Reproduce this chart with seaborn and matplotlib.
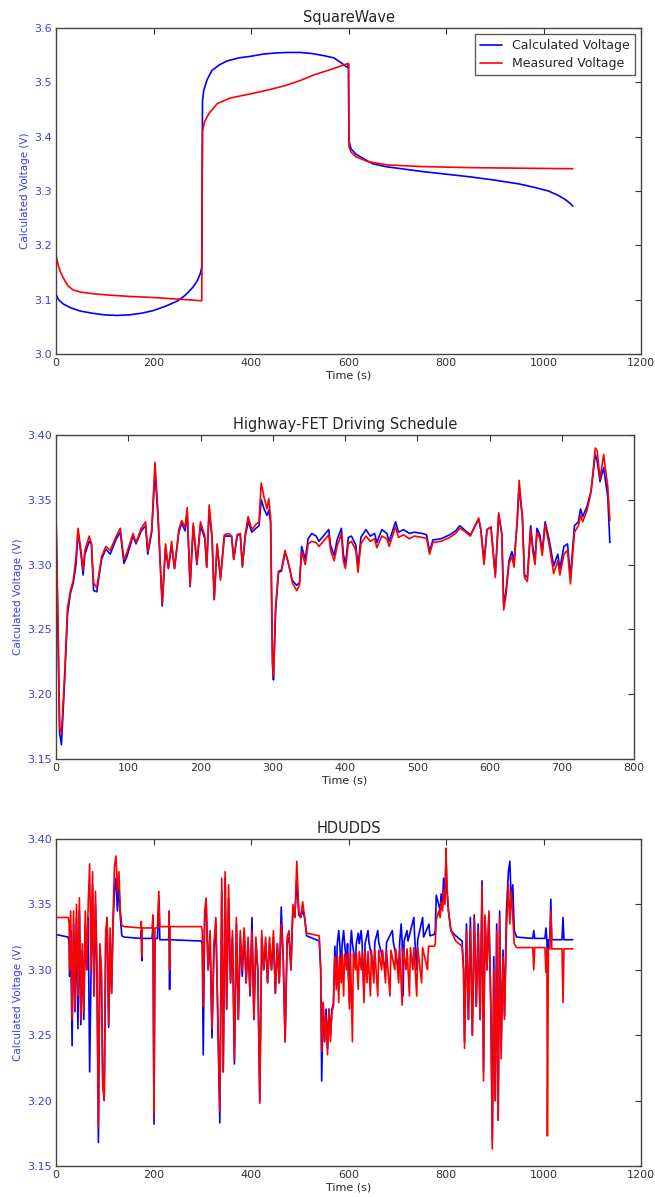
import matplotlib
matplotlib.use('Agg')
import matplotlib.pyplot as plt
import seaborn as sns
from matplotlib.ticker import FormatStrFormatter

# --- SquareWave test ---
sq_calc_t = [0, 5, 15, 30, 50, 75, 100, 125, 150, 175, 200, 225, 250, 265, 280, 290, 296, 299,
             300.5, 303, 310, 320, 335, 350, 375, 400, 425, 450, 475, 500, 525, 550, 570, 585, 595, 598, 600,
             601, 605, 615, 630, 650, 675, 700, 750, 800, 850, 900, 950, 980, 1010, 1030, 1045, 1055, 1060]
sq_calc_v = [3.110, 3.100, 3.092, 3.085, 3.079, 3.075, 3.072, 3.071, 3.072, 3.075, 3.080, 3.088, 3.098, 3.108, 3.122, 3.135, 3.148, 3.160,
             3.465, 3.485, 3.505, 3.522, 3.532, 3.539, 3.545, 3.548, 3.552, 3.554, 3.555, 3.555, 3.553, 3.549, 3.545, 3.536, 3.529, 3.528, 3.534,
             3.392, 3.378, 3.368, 3.360, 3.350, 3.345, 3.342, 3.336, 3.331, 3.326, 3.320, 3.313, 3.307, 3.300, 3.292, 3.284, 3.277, 3.272]

sq_meas_t = [0, 5, 10, 18, 25, 35, 50, 75, 100, 150, 200, 250, 299,
             300.5, 305, 314, 331, 357, 400, 440, 470, 500, 530, 565, 600,
             601, 605, 615, 640, 680, 750, 850, 950, 1060]
sq_meas_v = [3.182, 3.162, 3.149, 3.135, 3.125, 3.118, 3.114, 3.111, 3.109, 3.106, 3.104, 3.101, 3.098,
             3.410, 3.428, 3.443, 3.461, 3.471, 3.479, 3.487, 3.494, 3.503, 3.514, 3.524, 3.535,
             3.382, 3.372, 3.363, 3.354, 3.348, 3.345, 3.343, 3.342, 3.341]

# --- Highway-FET driving schedule ---
hw_t = [0, 3, 5, 7.5, 11.5, 16, 20, 24, 27.7, 30.5,
        34.6, 37.5, 40, 46, 49, 52, 56.5, 63, 69, 75,
        83.5, 89, 94, 98, 106.6, 110.7, 118, 124, 127, 132.5,
        137, 141, 147, 151.6, 155.6, 160, 164, 170, 174, 178.7,
        181.6, 185.6, 190, 195, 200, 206, 208.6, 212, 216, 219,
        223, 227.7, 233, 239, 243, 246, 250.7, 255, 258, 262,
        266, 271, 276.7, 281, 284, 288, 292, 294.5, 297, 299.7,
        301, 304, 308, 312, 317, 320, 324, 327, 333, 337,
        340, 345, 349, 354, 360, 364, 370, 377.5, 380, 385,
        389, 395, 397.7, 400.6, 404.6, 409, 415, 418, 422, 429,
        435, 441, 444, 451, 458, 461, 470, 474, 481, 489,
        496, 507, 513, 517, 521.6, 533, 545, 553, 559, 565,
        573.5, 585, 588, 592.5, 596.5, 602, 608, 612.7, 617, 619.6,
        622.5, 627, 631, 634, 638.6, 641, 645.5, 648.4, 652.4, 657,
        660, 663, 665.7, 669.7, 673, 677, 683, 688.8, 694.5, 697.4,
        703, 708, 712, 717.6, 723, 726, 729, 735, 740.6, 746.4,
        749, 753, 758, 763.7, 766.6]
hw_meas = [3.340, 3.250, 3.175, 3.170, 3.210, 3.267, 3.280, 3.288, 3.306, 3.328,
           3.311, 3.296, 3.311, 3.322, 3.316, 3.286, 3.282, 3.306, 3.314, 3.311,
           3.322, 3.328, 3.304, 3.309, 3.324, 3.317, 3.328, 3.333, 3.310, 3.327,
           3.379, 3.342, 3.270, 3.316, 3.297, 3.318, 3.297, 3.327, 3.334, 3.329,
           3.344, 3.284, 3.332, 3.301, 3.333, 3.322, 3.298, 3.346, 3.322, 3.273,
           3.316, 3.288, 3.323, 3.324, 3.322, 3.304, 3.323, 3.324, 3.298, 3.324,
           3.337, 3.327, 3.331, 3.333, 3.363, 3.352, 3.343, 3.351, 3.337, 3.225,
           3.214, 3.268, 3.295, 3.296, 3.311, 3.304, 3.296, 3.286, 3.280, 3.284,
           3.310, 3.300, 3.316, 3.318, 3.317, 3.314, 3.318, 3.323, 3.311, 3.303,
           3.314, 3.324, 3.303, 3.297, 3.316, 3.318, 3.311, 3.294, 3.316, 3.322,
           3.318, 3.320, 3.313, 3.322, 3.320, 3.314, 3.329, 3.321, 3.323, 3.320,
           3.322, 3.321, 3.320, 3.308, 3.317, 3.318, 3.321, 3.324, 3.328, 3.326,
           3.322, 3.336, 3.327, 3.300, 3.327, 3.329, 3.290, 3.340, 3.324, 3.265,
           3.275, 3.301, 3.306, 3.298, 3.337, 3.365, 3.337, 3.290, 3.287, 3.327,
           3.310, 3.300, 3.325, 3.320, 3.307, 3.331, 3.314, 3.293, 3.303, 3.292,
           3.308, 3.311, 3.285, 3.325, 3.330, 3.338, 3.333, 3.342, 3.356, 3.390,
           3.388, 3.366, 3.385, 3.360, 3.334]
hw_calc = [3.338, 3.240, 3.170, 3.161, 3.205, 3.262, 3.278, 3.286, 3.300, 3.325,
           3.308, 3.292, 3.308, 3.318, 3.316, 3.280, 3.279, 3.304, 3.312, 3.308,
           3.320, 3.325, 3.301, 3.306, 3.322, 3.316, 3.326, 3.330, 3.308, 3.325,
           3.372, 3.338, 3.268, 3.313, 3.297, 3.315, 3.297, 3.325, 3.332, 3.326,
           3.340, 3.283, 3.330, 3.300, 3.330, 3.320, 3.298, 3.342, 3.320, 3.273,
           3.315, 3.290, 3.322, 3.322, 3.322, 3.304, 3.322, 3.324, 3.299, 3.322,
           3.333, 3.325, 3.328, 3.330, 3.350, 3.343, 3.338, 3.342, 3.333, 3.222,
           3.211, 3.265, 3.294, 3.295, 3.309, 3.305, 3.295, 3.288, 3.284, 3.286,
           3.314, 3.304, 3.320, 3.324, 3.322, 3.318, 3.322, 3.327, 3.315, 3.307,
           3.319, 3.328, 3.308, 3.300, 3.321, 3.322, 3.315, 3.298, 3.321, 3.327,
           3.322, 3.324, 3.317, 3.327, 3.324, 3.318, 3.333, 3.325, 3.327, 3.324,
           3.325, 3.324, 3.323, 3.310, 3.319, 3.320, 3.323, 3.326, 3.330, 3.327,
           3.323, 3.335, 3.327, 3.302, 3.327, 3.329, 3.292, 3.338, 3.324, 3.270,
           3.278, 3.303, 3.310, 3.302, 3.335, 3.360, 3.336, 3.292, 3.290, 3.330,
           3.313, 3.304, 3.328, 3.323, 3.310, 3.333, 3.318, 3.299, 3.308, 3.297,
           3.314, 3.316, 3.290, 3.330, 3.333, 3.343, 3.337, 3.345, 3.357, 3.385,
           3.380, 3.364, 3.375, 3.352, 3.317]

# --- HDUDDS ---
hd_meas_t = [0, 25, 27, 28, 30, 33, 36, 39, 42, 45,
             48, 51, 54, 57, 60, 63, 66, 69, 72, 75,
             78, 81, 84, 87, 90, 93, 96, 99, 102, 105,
             108, 111, 114, 117, 120, 123, 126, 129, 132, 135,
             140, 174, 175, 176, 177, 197, 199, 200, 201, 203,
             208, 209, 211, 213, 231, 232, 233, 234, 298, 300,
             302, 305, 308, 312, 316, 320, 324, 328, 332, 336,
             340, 343, 347, 350, 354, 358, 362, 366, 370, 374,
             378, 382, 386, 390, 394, 398, 402, 406, 410, 414,
             418, 422, 426, 430, 434, 438, 442, 446, 450, 454,
             458, 462, 466, 470, 474, 478, 482, 486, 490, 494,
             498, 502, 506, 510, 514, 540, 543, 545, 548, 551,
             554, 557, 560, 563, 566, 569, 572, 575, 577, 580,
             582, 585, 587, 590, 592, 596, 598, 602, 604, 608,
             610, 614, 616, 620, 622, 626, 628, 632, 634, 638,
             640, 645, 647, 652, 654, 660, 662, 668, 670, 676,
             678, 685, 687, 695, 697, 703, 705, 710, 712, 718,
             720, 725, 727, 732, 734, 740, 742, 750, 752, 762,
             764, 776, 778, 780, 785, 788, 790, 793, 795, 798,
             800, 802, 805, 810, 820, 833, 836, 838, 842, 846,
             850, 854, 858, 862, 866, 870, 874, 877, 880, 884,
             888, 892, 895, 898, 901, 904, 907, 910, 913, 917,
             920, 924, 928, 931, 934, 937, 940, 945, 978, 980,
             982, 1003, 1005, 1007, 1008, 1010, 1013, 1015, 1017, 1038,
             1040, 1042, 1060]
hd_meas_v = [3.340, 3.340, 3.335, 3.300, 3.345, 3.262, 3.345, 3.270, 3.350, 3.280,
             3.355, 3.262, 3.320, 3.268, 3.345, 3.300, 3.350, 3.381, 3.300, 3.375,
             3.280, 3.360, 3.300, 3.180, 3.320, 3.300, 3.210, 3.200, 3.330, 3.340,
             3.258, 3.332, 3.282, 3.340, 3.380, 3.387, 3.360, 3.375, 3.345, 3.334,
             3.333, 3.332, 3.337, 3.310, 3.332, 3.332, 3.342, 3.250, 3.190, 3.332,
             3.332, 3.340, 3.360, 3.333, 3.333, 3.345, 3.300, 3.333, 3.333, 3.330,
             3.272, 3.345, 3.355, 3.300, 3.330, 3.255, 3.320, 3.340, 3.262, 3.192,
             3.370, 3.222, 3.375, 3.270, 3.365, 3.290, 3.330, 3.232, 3.340, 3.262,
             3.330, 3.300, 3.332, 3.290, 3.325, 3.282, 3.330, 3.262, 3.325, 3.300,
             3.198, 3.330, 3.300, 3.325, 3.290, 3.325, 3.300, 3.330, 3.282, 3.320,
             3.290, 3.335, 3.310, 3.245, 3.325, 3.330, 3.300, 3.350, 3.340, 3.383,
             3.345, 3.340, 3.352, 3.340, 3.328, 3.326, 3.300, 3.238, 3.275, 3.245,
             3.265, 3.235, 3.270, 3.245, 3.268, 3.272, 3.310, 3.285, 3.310, 3.275,
             3.311, 3.290, 3.312, 3.280, 3.312, 3.300, 3.312, 3.270, 3.313, 3.245,
             3.313, 3.300, 3.313, 3.285, 3.314, 3.300, 3.314, 3.275, 3.314, 3.290,
             3.314, 3.280, 3.315, 3.290, 3.315, 3.280, 3.315, 3.300, 3.315, 3.290,
             3.315, 3.280, 3.315, 3.300, 3.316, 3.290, 3.316, 3.273, 3.316, 3.300,
             3.316, 3.280, 3.317, 3.300, 3.317, 3.280, 3.317, 3.290, 3.317, 3.300,
             3.318, 3.318, 3.320, 3.338, 3.345, 3.340, 3.352, 3.345, 3.360, 3.350,
             3.393, 3.365, 3.345, 3.330, 3.322, 3.318, 3.300, 3.240, 3.330, 3.262,
             3.332, 3.250, 3.340, 3.272, 3.330, 3.262, 3.365, 3.215, 3.342, 3.300,
             3.345, 3.270, 3.163, 3.300, 3.200, 3.330, 3.185, 3.340, 3.232, 3.310,
             3.262, 3.330, 3.365, 3.335, 3.360, 3.340, 3.320, 3.317, 3.317, 3.300,
             3.317, 3.317, 3.298, 3.316, 3.173, 3.316, 3.316, 3.345, 3.316, 3.316,
             3.275, 3.316, 3.316]

hd_calc_t = [0, 25, 27, 28, 30, 33, 36, 39, 42, 45,
             48, 51, 54, 57, 60, 63, 66, 69, 72, 75,
             78, 81, 84, 87, 90, 93, 96, 99, 102, 105,
             108, 111, 114, 117, 120, 123, 126, 129, 132, 135,
             140, 174, 175, 176, 177, 197, 199, 200, 201, 203,
             208, 209, 211, 213, 231, 232, 233, 234, 298, 300,
             302, 305, 308, 312, 316, 320, 324, 328, 332, 336,
             340, 343, 347, 350, 354, 358, 362, 366, 370, 374,
             378, 382, 386, 390, 394, 398, 402, 406, 410, 414,
             418, 422, 426, 430, 434, 438, 442, 446, 450, 454,
             458, 462, 466, 470, 474, 478, 482, 486, 490, 494,
             498, 502, 506, 510, 514, 540, 543, 545, 548, 551,
             554, 557, 560, 563, 566, 569, 572, 575, 577, 580,
             582, 585, 587, 590, 592, 596, 598, 602, 604, 606,
             608, 614, 616, 620, 622, 626, 628, 632, 634, 640,
             642, 652, 654, 660, 662, 676, 678, 690, 692, 703,
             705, 708, 710, 712, 714, 720, 722, 734, 736, 740,
             742, 752, 754, 765, 767, 776, 778, 780, 785, 788,
             790, 793, 795, 798, 800, 802, 805, 810, 820, 833,
             836, 838, 842, 846, 850, 854, 858, 862, 866, 870,
             874, 877, 880, 884, 888, 892, 895, 898, 901, 904,
             907, 910, 913, 917, 920, 924, 928, 931, 934, 937,
             940, 945, 978, 980, 982, 1003, 1005, 1007, 1008, 1010,
             1013, 1015, 1017, 1038, 1040, 1042, 1060]
hd_calc_v = [3.327, 3.325, 3.320, 3.295, 3.330, 3.242, 3.335, 3.268, 3.340, 3.255,
             3.345, 3.258, 3.315, 3.262, 3.335, 3.300, 3.340, 3.222, 3.300, 3.365,
             3.280, 3.350, 3.300, 3.168, 3.315, 3.300, 3.210, 3.205, 3.325, 3.335,
             3.256, 3.325, 3.282, 3.335, 3.360, 3.370, 3.345, 3.365, 3.340, 3.326,
             3.325, 3.324, 3.330, 3.307, 3.324, 3.324, 3.335, 3.250, 3.182, 3.324,
             3.324, 3.335, 3.355, 3.323, 3.323, 3.335, 3.285, 3.323, 3.322, 3.320,
             3.235, 3.340, 3.350, 3.300, 3.325, 3.248, 3.315, 3.335, 3.262, 3.183,
             3.360, 3.222, 3.370, 3.270, 3.355, 3.290, 3.325, 3.228, 3.335, 3.262,
             3.325, 3.295, 3.330, 3.290, 3.320, 3.280, 3.340, 3.262, 3.320, 3.300,
             3.200, 3.325, 3.300, 3.320, 3.290, 3.320, 3.300, 3.325, 3.282, 3.320,
             3.290, 3.348, 3.310, 3.245, 3.320, 3.325, 3.300, 3.348, 3.340, 3.370,
             3.342, 3.340, 3.345, 3.340, 3.326, 3.322, 3.300, 3.215, 3.275, 3.245,
             3.270, 3.240, 3.270, 3.250, 3.270, 3.274, 3.318, 3.290, 3.320, 3.330,
             3.320, 3.300, 3.320, 3.330, 3.320, 3.305, 3.320, 3.275, 3.320, 3.330,
             3.320, 3.305, 3.320, 3.328, 3.320, 3.330, 3.320, 3.280, 3.320, 3.330,
             3.321, 3.300, 3.321, 3.330, 3.321, 3.300, 3.321, 3.330, 3.321, 3.300,
             3.321, 3.335, 3.322, 3.280, 3.322, 3.330, 3.322, 3.340, 3.323, 3.300,
             3.323, 3.340, 3.325, 3.335, 3.326, 3.327, 3.330, 3.357, 3.350, 3.345,
             3.358, 3.350, 3.370, 3.360, 3.385, 3.360, 3.345, 3.330, 3.326, 3.322,
             3.300, 3.245, 3.335, 3.262, 3.340, 3.250, 3.342, 3.272, 3.335, 3.262,
             3.368, 3.222, 3.340, 3.300, 3.342, 3.272, 3.170, 3.310, 3.200, 3.335,
             3.185, 3.345, 3.240, 3.315, 3.265, 3.345, 3.375, 3.383, 3.350, 3.365,
             3.330, 3.325, 3.324, 3.330, 3.324, 3.324, 3.332, 3.323, 3.300, 3.323,
             3.323, 3.354, 3.323, 3.323, 3.340, 3.323, 3.323]

sns.set_theme(style='white')
plt.rcParams['font.family'] = ['DejaVu Sans']

fig = plt.figure(figsize=(6.55, 11.97), dpi=100)
W, H = 655, 1197

def make_ax(left, right, top, bottom):
    return fig.add_axes([left / W, 1 - bottom / H, (right - left) / W, (bottom - top) / H])

ax1 = make_ax(56, 641, 28, 354)
ax2 = make_ax(56, 634, 435, 759)
ax3 = make_ax(56, 641, 839, 1166)

ylab_color = '#3c3cd6'

panels = [
    (ax1, sq_calc_t, sq_calc_v, sq_meas_t, sq_meas_v, 'SquareWave', (0, 1200), (3.0, 3.6), 0.1, '%.1f'),
    (ax2, hw_t, hw_calc, hw_t, hw_meas, 'Highway-FET Driving Schedule', (0, 800), (3.15, 3.40), 0.05, '%.2f'),
    (ax3, hd_calc_t, hd_calc_v, hd_meas_t, hd_meas_v, 'HDUDDS', (0, 1200), (3.15, 3.40), 0.05, '%.2f'),
]

for ax, ct, cv, mt, mv, title, xl, yl, ystep, fmt in panels:
    sns.lineplot(x=ct, y=cv, color='#0000ff', lw=1.2, estimator=None, sort=False,
                 ax=ax, label='Calculated Voltage')
    sns.lineplot(x=mt, y=mv, color='#ff0000', lw=1.2, estimator=None, sort=False,
                 ax=ax, label='Measured Voltage')
    ax.set_xlim(*xl)
    ax.set_ylim(*yl)
    n = int(round((yl[1] - yl[0]) / ystep))
    ax.set_yticks([yl[0] + i * ystep for i in range(n + 1)])
    ax.yaxis.set_major_formatter(FormatStrFormatter(fmt))
    ax.set_title(title, fontsize=10.5, pad=4)
    ax.set_xlabel('Time (s)', fontsize=8, labelpad=2)
    ax.set_ylabel('Calculated Voltage (V)', fontsize=7.5, color=ylab_color, labelpad=3)
    ax.tick_params(direction='in', top=True, right=True, length=4, width=0.8,
                   labelsize=8, colors='#333333', pad=3)
    ax.tick_params(axis='y', labelcolor=ylab_color)
    for s in ax.spines.values():
        s.set_color('#444444')
        s.set_linewidth(1.0)
    if ax is ax1:
        leg = ax.legend(loc='upper right', fontsize=9, frameon=True, fancybox=False,
                        borderpad=0.4, handlelength=1.8, labelspacing=0.4)
        leg.get_frame().set_edgecolor('#333333')
        leg.get_frame().set_linewidth(1.0)
    else:
        ax.get_legend().remove()

fig.savefig('out.png', dpi=100)
